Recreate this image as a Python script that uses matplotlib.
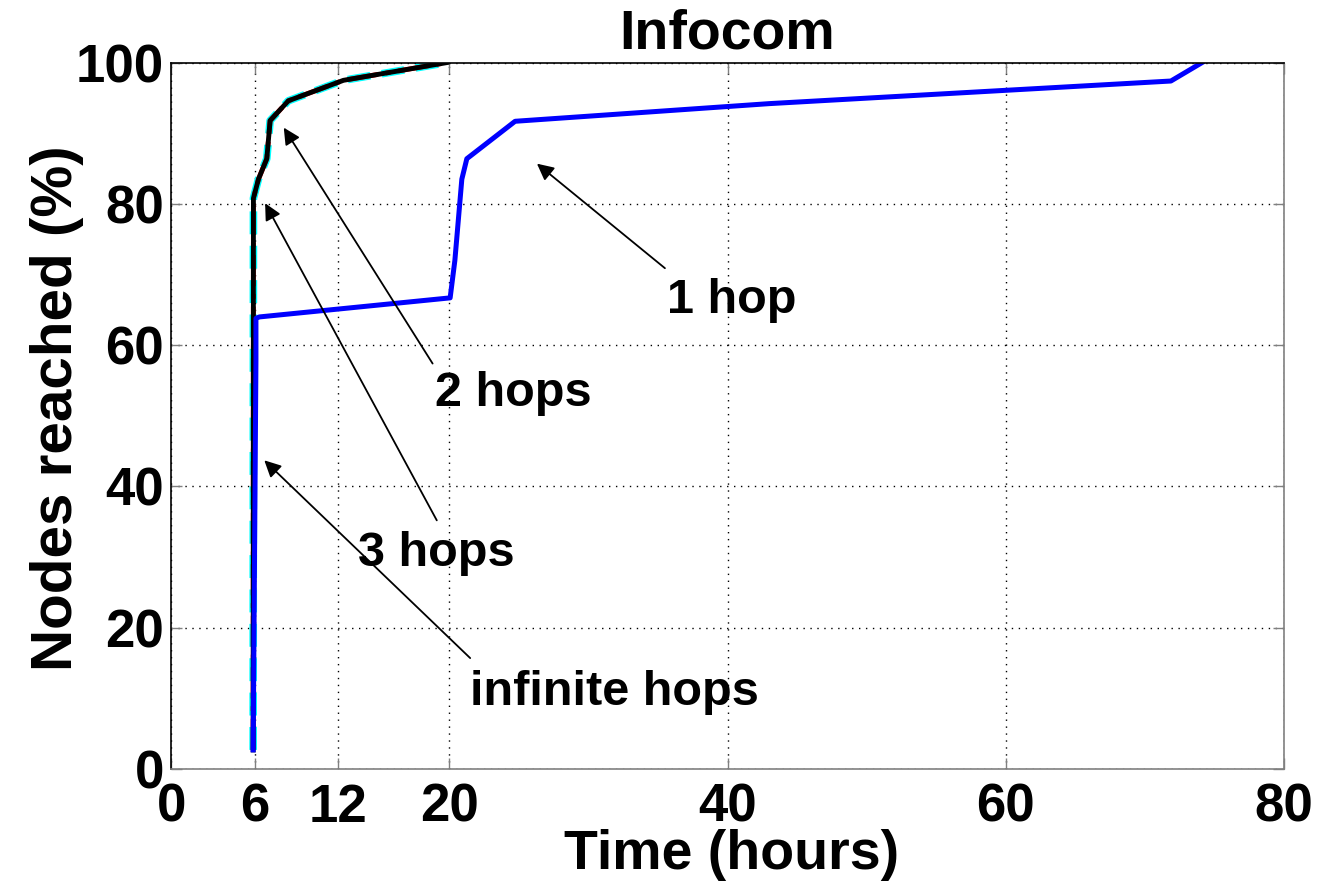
import matplotlib
matplotlib.use("Agg")
import matplotlib.pyplot as plt

# Data
hop2_t = [5.9, 5.92, 6.28, 6.88, 7.12, 8.43, 12.39, 19.8]
hop2_v = [2.7, 80.8, 83.5, 86.4, 91.8, 94.6, 97.5, 100.0]
hop3_t = [5.9, 5.92, 6.28, 6.88, 7.12, 8.43, 12.39, 19.8]
hop3_v = [2.7, 80.8, 83.5, 86.4, 91.8, 94.6, 97.5, 100.0]
hopinf_t = [5.9, 5.92, 6.28, 6.88, 7.12, 8.43, 12.39, 19.8]
hopinf_v = [2.7, 80.8, 83.5, 86.4, 91.8, 94.6, 97.5, 100.0]
hop1_t = [5.9, 6.1, 6.1, 6.35, 20.06, 20.4, 20.9, 21.26, 24.73, 43.0, 71.87, 74.1]
hop1_v = [2.7, 57.8, 63.8, 64.0, 66.7, 72.0, 83.5, 86.4, 91.7, 94.2, 97.4, 100.0]

xticks = [0, 6, 12, 20, 40, 60, 80]
yticks = [0, 20, 40, 60, 80, 100]

# annotations: label, text position, arrow tail, arrow head
ann_labels = ["1 hop", "2 hops", "3 hops", "infinite hops"]
ann_text_xy = [(40.3, 66.3), (24.6, 53.2), (19.1, 30.5), (31.9, 10.8)]
ann_tail_xy = [(35.5, 70.9), (18.8, 57.4), (19.1, 35.2), (21.5, 15.7)]
ann_head_xy = [(26.3, 85.7), (8.1, 90.8), (6.76, 80.1), (6.7, 43.7)]

plt.rcParams['font.family'] = ['Liberation Sans', 'DejaVu Sans']
plt.rcParams['font.weight'] = 'bold'

fig = plt.figure(figsize=(13.18, 8.85), dpi=100)
ax = fig.add_axes([0.1298, 0.1311, 0.8444, 0.7981])

ax.plot(hopinf_t, hopinf_v, color='cyan', linestyle='--', linewidth=5.5, dashes=(3, 1.5))
ax.plot(hop3_t, hop3_v, color='red', linestyle='-.', linewidth=3.5)
ax.plot(hop2_t, hop2_v, color='black', linewidth=3.5)
ax.plot(hop1_t, hop1_v, color='blue', linewidth=3.6)

for lab, txy, tail, head in zip(ann_labels, ann_text_xy, ann_tail_xy, ann_head_xy):
    ax.annotate('', xy=head, xytext=tail,
                arrowprops=dict(arrowstyle='-|>', color='black', lw=1.3,
                                mutation_scale=25, shrinkA=0, shrinkB=0))
    ax.text(txy[0], txy[1], lab, fontsize=35, fontweight='bold',
            ha='center', va='center')

ax.set_xlim(0, 80)
ax.set_ylim(0, 100)
ax.set_xticks(xticks)
ax.set_yticks(yticks)
ax.tick_params(axis='both', direction='in', length=8, width=1, color='#808080',
               labelsize=38, top=True, right=True)
ax.tick_params(axis='x', pad=10)
ax.tick_params(axis='y', pad=5)
for lbl in ax.get_xticklabels() + ax.get_yticklabels():
    lbl.set_fontweight('bold')
ax.grid(True, linestyle=(0, (1, 4)), color='black', linewidth=1)
for s in ax.spines.values():
    s.set_linewidth(1.2)
ax.spines['bottom'].set_color('#808080')
ax.spines['right'].set_color('#808080')

ax.set_title('Infocom', fontsize=40, fontweight='bold', pad=10)
ax.set_xlabel('Time (hours)', fontsize=40, fontweight='bold')
ax.xaxis.set_label_coords(0.504, -0.085)
ax.set_ylabel('Nodes reached (%)', fontsize=42, fontweight='bold')
ax.yaxis.set_label_coords(-0.078, 0.511)

fig.savefig('out.png', dpi=100)
